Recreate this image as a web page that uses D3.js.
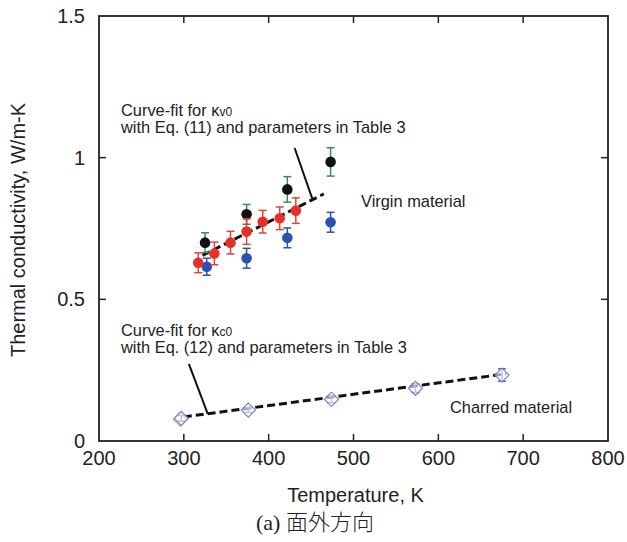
<!DOCTYPE html>
<html>
<head>
<meta charset="utf-8">
<script src="https://cdn.jsdelivr.net/npm/d3@7"></script>
<style>
  body { margin: 0; background: #fff; }
  text { font-family: "Liberation Sans", Arial, sans-serif; fill: #222; }
</style>
</head>
<body>
<svg id="chart" width="627" height="542"></svg>
<script>
// virgin material, three specimens (black / red / blue)
var virginBlackT = [325, 374, 422, 473];
var virginBlackK = [0.70, 0.80, 0.888, 0.985];
var virginBlackErr = [0.035, 0.035, 0.045, 0.05];

var virginRedT = [317, 336, 355, 374, 393, 413, 432];
var virginRedK = [0.629, 0.662, 0.70, 0.739, 0.774, 0.786, 0.813];
var virginRedErr = [0.035, 0.04, 0.04, 0.045, 0.04, 0.04, 0.045];

var virginBlueT = [327, 374, 422, 473];
var virginBlueK = [0.615, 0.645, 0.717, 0.772];
var virginBlueErr = [0.03, 0.035, 0.035, 0.035];

// charred material
var charBlueT = [297, 376, 474, 573, 675];
var charBlueK = [0.08, 0.109, 0.147, 0.186, 0.233];
var charBlueErr = [0.01, 0.008, 0.012, 0.015, 0.022];
var charRedT = [296];
var charRedK = [0.077];

// curve fits and leader lines (temperature, conductivity)
var fitVirgin = [[322, 0.655], [465, 0.872]];
var fitChar = [[300, 0.085], [680, 0.237]];
var leaderVirgin = [[430.6, 1.034], [451.8, 0.852]];
var leaderChar = [[305.9, 0.272], [328.2, 0.096]];

var xTicks = [200, 300, 400, 500, 600, 700, 800];
var yTicks = [0, 0.5, 1, 1.5];
var yTickLabels = ["0", "0.5", "1", "1.5"];

var svg = d3.select("#chart");
var x = d3.scaleLinear().domain([200, 800]).range([99, 608]);
var y = d3.scaleLinear().domain([0, 1.5]).range([441, 16]);

function zip(t, k, e) {
  return t.map(function(d, i) { return {t: d, k: k[i], e: e ? e[i] : 0}; });
}

// frame
svg.append("rect")
  .attr("x", x(200)).attr("y", y(1.5))
  .attr("width", x(800) - x(200)).attr("height", y(0) - y(1.5))
  .attr("fill", "none").attr("stroke", "#222").attr("stroke-width", 1.8);

// ticks, inward on all four sides
var tl = 7;
xTicks.slice(1, -1).forEach(function(t) {
  svg.append("line").attr("x1", x(t)).attr("x2", x(t)).attr("y1", y(0)).attr("y2", y(0) - tl)
    .attr("stroke", "#222").attr("stroke-width", 1.5);
  svg.append("line").attr("x1", x(t)).attr("x2", x(t)).attr("y1", y(1.5)).attr("y2", y(1.5) + tl)
    .attr("stroke", "#222").attr("stroke-width", 1.5);
});
yTicks.slice(1, -1).forEach(function(t) {
  svg.append("line").attr("x1", x(200)).attr("x2", x(200) + tl).attr("y1", y(t)).attr("y2", y(t))
    .attr("stroke", "#222").attr("stroke-width", 1.5);
  svg.append("line").attr("x1", x(800)).attr("x2", x(800) - tl).attr("y1", y(t)).attr("y2", y(t))
    .attr("stroke", "#222").attr("stroke-width", 1.5);
});

// tick labels
svg.selectAll(".xl").data(xTicks).enter().append("text")
  .attr("x", function(d) { return x(d); }).attr("y", y(0) + 24)
  .attr("text-anchor", "middle").attr("font-size", "20px").text(function(d) { return d; });
svg.selectAll(".yl").data(yTicks).enter().append("text")
  .attr("x", 85).attr("y", function(d) { return y(d) + 7; })
  .attr("text-anchor", "end").attr("font-size", "20px")
  .text(function(d, i) { return yTickLabels[i]; });

// axis titles
svg.append("text").attr("x", (x(200) + x(800)) / 2 + 2).attr("y", 502)
  .attr("text-anchor", "middle").attr("font-size", "20px").text("Temperature, K");
svg.append("text").attr("transform", "translate(25,230) rotate(-90)")
  .attr("text-anchor", "middle").attr("font-size", "20px").text("Thermal conductivity, W/m-K");

// caption
var cap = svg.append("text").attr("x", 315).attr("y", 530).attr("text-anchor", "middle")
  .style("fill", "#222");
cap.append("tspan").attr("font-family", "'Liberation Serif', serif").attr("font-size", "22px").text("(a) ");
cap.append("tspan").attr("font-family", "'Noto Sans CJK JP', sans-serif").attr("font-size", "22px")
  .attr("font-weight", 300).text("面外方向");

// fit lines
var line = d3.line().x(function(d) { return x(d[0]); }).y(function(d) { return y(d[1]); });
[fitVirgin, fitChar].forEach(function(f) {
  svg.append("path").attr("d", line(f)).attr("fill", "none")
    .attr("stroke", "#111").attr("stroke-width", 3).attr("stroke-dasharray", "8,4");
});
[leaderVirgin, leaderChar].forEach(function(f) {
  svg.append("path").attr("d", line(f)).attr("fill", "none")
    .attr("stroke", "#111").attr("stroke-width", 2);
});

// error bars + markers
function errBars(data, color) {
  var g = svg.append("g").attr("stroke", color).attr("stroke-width", 1.5);
  data.forEach(function(d) {
    if (!d.e) return;
    g.append("line").attr("x1", x(d.t)).attr("x2", x(d.t)).attr("y1", y(d.k - d.e)).attr("y2", y(d.k + d.e));
    [d.k - d.e, d.k + d.e].forEach(function(v) {
      g.append("line").attr("x1", x(d.t) - 4).attr("x2", x(d.t) + 4).attr("y1", y(v)).attr("y2", y(v));
    });
  });
}
function dots(data, color) {
  svg.append("g").selectAll("circle").data(data).enter().append("circle")
    .attr("cx", function(d) { return x(d.t); }).attr("cy", function(d) { return y(d.k); })
    .attr("r", 5.3).attr("fill", color);
}
function diamonds(data, color) {
  var sym = d3.symbol().type(d3.symbolSquare).size(100);
  svg.append("g").selectAll("path").data(data).enter().append("path")
    .attr("d", sym)
    .attr("transform", function(d) { return "translate(" + x(d.t) + "," + y(d.k) + ") rotate(45)"; })
    .attr("fill", "#fff").attr("fill-opacity", 0.6).attr("stroke", color).attr("stroke-width", 1.1);
}

var blue = zip(virginBlueT, virginBlueK, virginBlueErr);
var red = zip(virginRedT, virginRedK, virginRedErr);
var black = zip(virginBlackT, virginBlackK, virginBlackErr);

errBars(blue, "#3050a8");
dots(blue, "#2a52b0");
errBars(black, "#3d8a5c");
dots(black, "#111");
errBars(red, "#e0453a");
dots(red, "#e8302a");

var charBlue = zip(charBlueT, charBlueK, charBlueErr);
diamonds(zip(charRedT, charRedK), "#e08a8a");
errBars(charBlue, "#5a62c8");
diamonds(charBlue, "#7078dc");

// annotations
function label(xp, yp, main, sub) {
  var t = svg.append("text").attr("x", xp).attr("y", yp).attr("font-size", "16.4px");
  t.append("tspan").text(main);
  if (sub) t.append("tspan").attr("font-size", "12px").text(sub);
}
label(121, 116, "Curve-fit for κ", "v0");
label(121, 133, "with Eq. (11) and parameters in Table 3");
label(361, 207, "Virgin material");
label(121, 336, "Curve-fit for κ", "c0");
label(121, 353, "with Eq. (12) and parameters in Table 3");
label(450, 413, "Charred material");
</script>
</body>
</html>
